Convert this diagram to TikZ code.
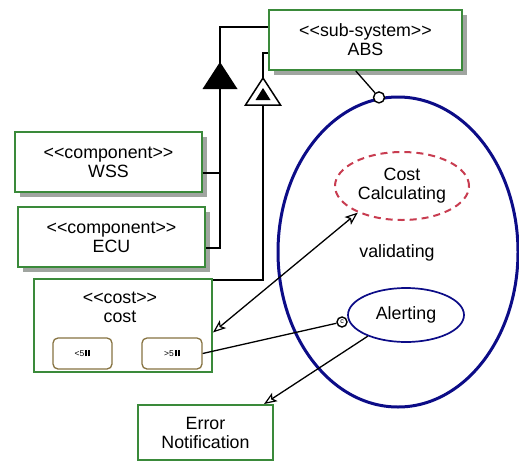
\documentclass[tikz,border=0pt]{standalone}
\usepackage{fontspec}
\setmainfont{Liberation Sans}
\usetikzlibrary{arrows.meta,shapes.geometric,shadows,calc}

\definecolor{boxgreen}{RGB}{58,138,58}
\definecolor{shadowgray}{RGB}{160,165,160}
\definecolor{statenavy}{RGB}{12,12,135}
\definecolor{dashred}{RGB}{200,60,80}
\definecolor{slotbrown}{RGB}{135,115,65}

% guillemet-free double angle brackets
\newcommand\dlt{<\kern0pt<}
\newcommand\dgt{>\kern0pt>}

\tikzset{
  lbl/.style={font=\fontsize{17.8}{19}\selectfont, align=center},
  umlbox/.style={draw=boxgreen, line width=1.9pt, fill=white, inner sep=0pt, lbl},
  shadowbox/.style={umlbox, drop shadow={shadow xshift=5pt, shadow yshift=-5pt, fill=shadowgray, opacity=1}},
  slot/.style={draw=slotbrown, line width=1.3pt, rounded corners=5pt, fill=white,
    minimum width=59pt, minimum height=31pt, inner sep=0pt, font=\fontsize{8.5}{9}\selectfont},
  genline/.style={draw=black, line width=1.4pt},
  link/.style={draw=black, line width=1.3pt},
  ohead/.tip={Stealth[open, length=13pt, width=10pt, inset=3pt, line width=1.2pt]},
}

\newcommand\bars{\kern1pt\rule{2pt}{6pt}\kern1.2pt\rule{2pt}{6pt}}

\begin{document}
\begin{tikzpicture}[x=1pt, y=-1pt]
\useasboundingbox (0,0) rectangle (519,466);

% structural boxes
\node[shadowbox, minimum width=193pt, minimum height=60pt] (abs) at (365.5,40) {\dlt sub-system\dgt\\ABS};
\node[shadowbox, minimum width=187pt, minimum height=60pt] (wss) at (108.5,162) {\dlt component\dgt\\WSS};
\node[shadowbox, minimum width=187pt, minimum height=60pt] (ecu) at (111.5,237) {\dlt component\dgt\\ECU};
\node[umlbox, minimum width=178pt, minimum height=93pt] (cost) at (123,325.5) {};
\node[lbl] (costlbl) at (120,307) {\dlt cost\dgt\\cost};
\node[slot] (lt) at (82.5,353.5) {<5\bars};
\node[slot, minimum width=60pt] (gt) at (172,353.5) {>5\bars};
\node[umlbox, minimum width=135pt, minimum height=55pt] (err) at (205.5,432.5) {Error\\Notification};

% generalization to ABS (filled head)
\coordinate (gA) at (220,27);
\coordinate (gB) at (220,248);
\draw[genline] (abs.west |- gA) -- (gA) -- (gB) -- (ecu.east |- gB);
\draw[genline] (wss.east |- 0,173) -- (220,173);
\fill[black] (220,62) -- (237.5,89) -- (202.5,89) -- cycle;

% second generalization to ABS (open head with inner mark)
\coordinate (hA) at (263,53);
\coordinate (hB) at (263,280);
\draw[genline] (abs.west |- hA) -- (hA) -- (hB) -- (cost.east |- hB);
\draw[black, line width=1.5pt, fill=white] (263,78) -- (280.5,105) -- (245.5,105) -- cycle;
\fill[black] (263,88) -- (270.5,100) -- (255.5,100) -- cycle;

% states
\node[ellipse, draw=statenavy, line width=3pt, minimum width=240pt, minimum height=310pt, inner sep=0pt] (val) at (398,252) {};
\node[lbl] (vallbl) at (397,253) {validating};
\node[ellipse, draw=dashred, line width=2pt, dash pattern=on 7pt off 5pt,
  minimum width=134pt, minimum height=68pt, inner sep=0pt, lbl] (cc) at (402,186) {Cost\\Calculating};
\node[ellipse, draw=statenavy, line width=1.7pt, fill=white,
  minimum width=116pt, minimum height=54pt, inner sep=0pt, lbl] (alert) at (406,315) {Alerting};

% attachment of ABS to the state
\node[circle, draw=black, line width=1.4pt, fill=white, minimum size=11pt, inner sep=0pt] (topdot) at (val.97) {};
\draw[link] ($(abs.south west)!0.45!(abs.south east)$) -- (topdot);

% connector from the >5 slot to Alerting
\node[circle, draw=black, line width=1.4pt, fill=white, minimum size=10pt, inner sep=0pt,
  font=\fontsize{7}{7}\selectfont] (cdot) at (342,322) {c};
\draw[link] (gt.east) -- (cdot);

% cost <-> Cost Calculating
\draw[link, ohead-ohead] ($(cost.east)+(0,7)$) -- (cc.211);

% Alerting -> Error Notification
\draw[link, -ohead] (alert.209) -- ($(err.north east)+(-10,0)$);
\end{tikzpicture}
\end{document}
